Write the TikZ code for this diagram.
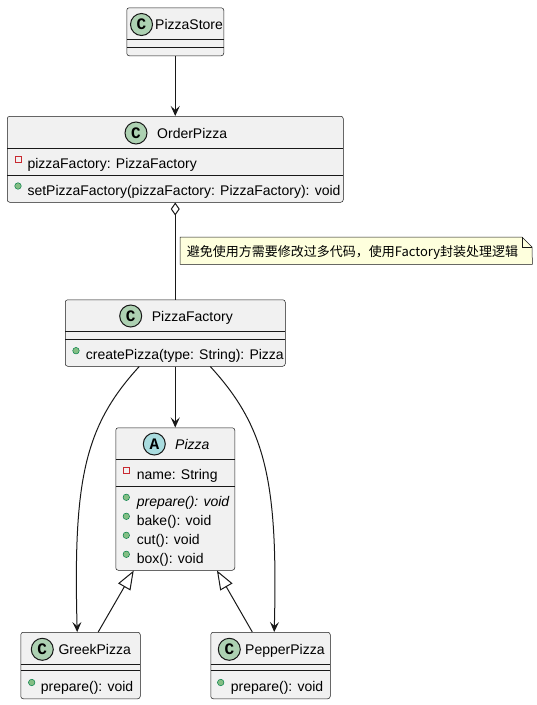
\documentclass[tikz,border=0pt]{standalone}
\usepackage{fontspec}
\setmainfont{Liberation Sans}
\newfontfamily\cjk{Noto Sans CJK SC}
\newfontfamily\iconfont{Liberation Mono}
\usetikzlibrary{arrows.meta}
\definecolor{boxfill}{HTML}{F1F1F1}
\definecolor{boxline}{HTML}{181818}
\definecolor{cfill}{HTML}{ADD1B2}
\definecolor{afill}{HTML}{A9DCDF}
\definecolor{notefill}{HTML}{FEFFDD}
\definecolor{privred}{HTML}{C82930}
\definecolor{pubfill}{HTML}{84BE84}
\definecolor{publine}{HTML}{038048}
\begin{document}
\begin{tikzpicture}[x=1pt,y=-1pt,
 cls/.style={draw=boxline,fill=boxfill,line width=0.5pt,rounded corners=2.5pt,anchor=north west,inner sep=0pt},
 sep/.style={draw=boxline,line width=0.5pt},
 cicon/.style={circle,draw=boxline,line width=1pt,fill=cfill,minimum size=22pt,inner sep=0pt,font=\iconfont\bfseries\fontsize{16}{16}\selectfont},
 aicon/.style={cicon,fill=afill},
 title/.style={anchor=base west,inner sep=0pt,font=\fontsize{14}{14}\selectfont},
 member/.style={anchor=base west,inner sep=0pt,font=\fontsize{14}{14}\selectfont},
 priv/.style={rectangle,draw=privred,line width=1pt,minimum size=6pt,inner sep=0pt},
 pub/.style={circle,draw=publine,fill=pubfill,line width=0.5pt,minimum size=6.5pt,inner sep=0pt},
 dep/.style={draw=boxline,line width=1pt,-{Stealth[length=10pt,width=9pt,inset=4pt]}},
 ext/.style={draw=boxline,line width=1pt,-{Triangle[length=19pt,width=14pt,fill=white]}},
 agg/.style={draw=boxline,line width=1pt,{Diamond[length=13pt,width=9pt,fill=white]}-},
 notebox/.style={anchor=north west,minimum width=352pt,minimum height=27pt,inner sep=0pt},
 notetext/.style={anchor=base west,inner sep=0pt,font=\cjk\fontsize{13}{13}\selectfont}]
\useasboundingbox (0,0) rectangle (537,705);

\node[cls,minimum width=97pt,minimum height=48pt] (store) at (126.5,7.5) {};
\draw[sep] (store.north west) ++(0,32) -- ++(97,0);
\draw[sep] (store.north west) ++(0,40) -- ++(97,0);
\node[cicon] (storeC) at (141.5,24.5) {C};
\node[title] (storeT) at (155,29) {PizzaStore};

\node[cls,minimum width=336pt,minimum height=86pt] (order) at (7,116) {};
\draw[sep] (order.north west) ++(0,32) -- ++(336,0);
\draw[sep] (order.north west) ++(0,59) -- ++(336,0);
\node[cicon] (orderC) at (136,133) {C};
\node[title] (orderT) at (157,138) {OrderPizza};
\node[priv] (orderF1) at (18,159.5) {};
\node[member] (orderF1T) at (27.3,168) {pizzaFactory: PizzaFactory};
\node[pub] (orderM1) at (18,186) {};
\node[member] (orderM1T) at (27.3,195) {setPizzaFactory(pizzaFactory: PizzaFactory): void};

\node[notebox] (note) at (180,237) {};
\draw[boxline,fill=notefill,line width=0.5pt] (note.north west) -- ++(342,0) -- ++(10,10) -- (note.south east) -- (note.south west) -- cycle;
\draw[boxline,line width=0.5pt] (note.north east) ++(-10,0) -- ++(0,10) -- ++(10,0);
\node[notetext] (noteT) at (186.7,256.5) {避免使用方需要修改过多代码，使用Factory封装处理逻辑};

\node[cls,minimum width=220pt,minimum height=66.5pt] (factory) at (65,299.5) {};
\draw[sep] (factory.north west) ++(0,32) -- ++(220,0);
\draw[sep] (factory.north west) ++(0,40) -- ++(220,0);
\node[cicon] (factoryC) at (130.7,316) {C};
\node[title] (factoryT) at (151.7,321) {PizzaFactory};
\node[pub] (factoryM1) at (76,350.7) {};
\node[member] (factoryM1T) at (85.7,359.5) {createPizza(type: String): Pizza};

\node[cls,minimum width=119pt,minimum height=142.5pt] (pizza) at (115.5,427.5) {};
\draw[sep] (pizza.north west) ++(0,32) -- ++(119,0);
\draw[sep] (pizza.north west) ++(0,58.5) -- ++(119,0);
\node[aicon] (pizzaA) at (154.3,444) {A};
\node[title,font=\fontsize{14}{14}\selectfont\itshape] (pizzaT) at (175,449.5) {Pizza};
\node[priv] (pizzaF1) at (126.3,470.3) {};
\node[member] (pizzaF1T) at (136.7,479) {name: String};
\node[pub] (pizzaM1) at (126.3,497.3) {};
\node[member,font=\fontsize{14}{14}\selectfont\itshape] (pizzaM1T) at (136.7,506) {prepare(): void};
\node[pub] (pizzaM2) at (126.3,516.3) {};
\node[member] (pizzaM2T) at (136.7,525) {bake(): void};
\node[pub] (pizzaM3) at (126.3,535.3) {};
\node[member] (pizzaM3T) at (136.7,544) {cut(): void};
\node[pub] (pizzaM4) at (126.3,554.3) {};
\node[member] (pizzaM4T) at (136.7,563) {box(): void};

\node[cls,minimum width=119.5pt,minimum height=66.5pt] (greek) at (20.5,632) {};
\draw[sep] (greek.north west) ++(0,32) -- ++(119.5,0);
\draw[sep] (greek.north west) ++(0,38) -- ++(119.5,0);
\node[cicon] (greekC) at (42.3,649.3) {C};
\node[title] (greekT) at (58.3,654) {GreekPizza};
\node[pub] (greekM1) at (31.7,682.5) {};
\node[member] (greekM1T) at (40.7,691) {prepare(): void};

\node[cls,minimum width=119.5pt,minimum height=66.5pt] (pepper) at (210.5,632) {};
\draw[sep] (pepper.north west) ++(0,32) -- ++(119.5,0);
\draw[sep] (pepper.north west) ++(0,38) -- ++(119.5,0);
\node[cicon] (pepperC) at (229.3,649.3) {C};
\node[title] (pepperT) at (245,654) {PepperPizza};
\node[pub] (pepperM1) at (220.7,682.5) {};
\node[member] (pepperM1T) at (230.7,691) {prepare(): void};

\draw[dep] (store) -- (order);
\draw[agg] (order.south) -- (factory.north);
\draw[dep] (factory.south) -- (pizza.north);
\draw[dep] ([xshift=-36pt]factory.south) .. controls +(-55,60) and +(-4,-152) .. ([xshift=-3.3pt]greek.north);
\draw[dep] ([xshift=35pt]factory.south) .. controls +(55,60) and +(4,-152) .. ([xshift=3.7pt]pepper.north);
\draw[ext] ([xshift=17.7pt]greek.north) -- ([xshift=-41.5pt]pizza.south);
\draw[ext] ([xshift=-18.2pt]pepper.north) -- ([xshift=41.7pt]pizza.south);
\end{tikzpicture}
\end{document}
